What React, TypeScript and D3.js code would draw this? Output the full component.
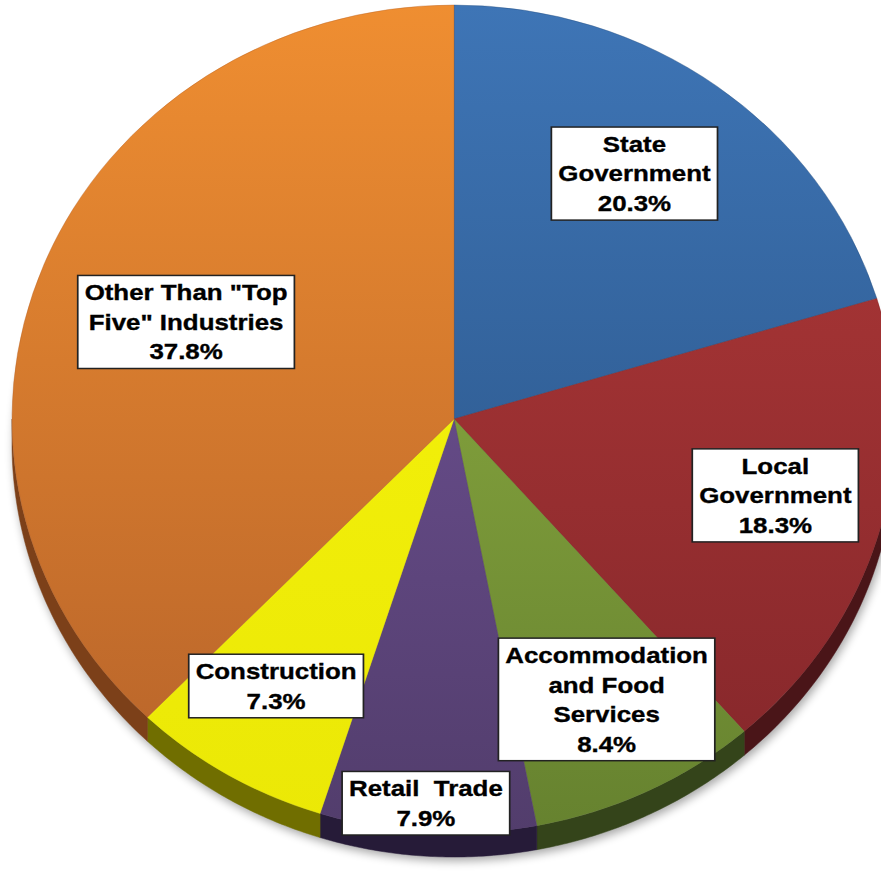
import React, { useEffect, useRef } from 'react';
import * as d3 from 'd3';

// slices, clockwise from 12 o'clock
const categories = [
  'State Government',
  'Local Government',
  'Accommodation and Food Services',
  'Retail Trade',
  'Construction',
  'Other Than "Top Five" Industries',
];
const shares = [20.3, 18.3, 8.4, 7.9, 7.3, 37.8];
const labelLines = [
  ['State', 'Government'],
  ['Local', 'Government'],
  ['Accommodation', 'and Food', 'Services'],
  ['Retail  Trade'],
  ['Construction'],
  ['Other Than "Top', 'Five" Industries'],
];

// colours: top of pie, bottom of pie, side wall
const lightColors = ['#3e75b6', '#b33a39', '#96b646', '#7657a0', '#f8f50c', '#ef8e31'];
const darkColors = ['#264d7c', '#83262a', '#66822f', '#523d6c', '#ebe806', '#b5622a'];
const sideColors = ['#1c3a5e', '#4a1518', '#34441a', '#261b38', '#706e00', '#7c4019'];

// where each label sits: fraction of the radius, and a small turn (degrees) off the slice middle
const labelRadius = [0.72, 0.75, 0.76, 0.93, 0.76, 0.65];
const labelTurn = [-2, -1.8, -1.1, 0.5, 1.2, -0.8];

const W = 881;
const H = 875;

const App = () => {
  const svgRef = useRef<SVGSVGElement | null>(null);

  useEffect(() => {
    const cx = 454;
    const cy = 419;
    const rx = 442;
    const ry = 414;
    const depth = 24;

    const svg = d3.select(svgRef.current);
    svg.selectAll('*').remove();

    const defs = svg.append('defs');

    const blur = defs.append('filter').attr('id', 'shadow')
      .attr('x', '-20%').attr('y', '-20%').attr('width', '140%').attr('height', '140%');
    blur.append('feGaussianBlur').attr('stdDeviation', 5);

    categories.forEach((c, i) => {
      const g = defs.append('linearGradient')
        .attr('id', `grad${i}`)
        .attr('gradientUnits', 'userSpaceOnUse')
        .attr('x1', 0).attr('x2', 0)
        .attr('y1', -rx).attr('y2', rx);
      g.append('stop').attr('offset', 0).attr('stop-color', lightColors[i]);
      g.append('stop').attr('offset', 1).attr('stop-color', darkColors[i]);
    });

    const arcs = d3.pie<number>().sort(null).value(d => d)(shares);
    const pt = (a: number, dy = 0): [number, number] => [cx + rx * Math.sin(a), cy - ry * Math.cos(a) + dy];

    // soft shadow under the disc
    svg.append('ellipse')
      .attr('cx', cx + 2)
      .attr('cy', cy + depth + 4)
      .attr('rx', rx)
      .attr('ry', ry)
      .attr('fill', '#000')
      .attr('opacity', 0.35)
      .attr('filter', 'url(#shadow)');

    // side wall (only front half is visible)
    const line = d3.line();
    arcs.forEach((d, i) => {
      const a0 = Math.max(d.startAngle, Math.PI / 2);
      const a1 = Math.min(d.endAngle, Math.PI * 1.5);
      if (a0 >= a1) return;
      const steps = d3.range(0, 61).map(k => a0 + ((a1 - a0) * k) / 60);
      const pts = steps.map(a => pt(a)).concat(steps.slice().reverse().map(a => pt(a, depth)));
      svg.append('path')
        .attr('d', line(pts) + 'Z')
        .attr('fill', sideColors[i])
        .attr('stroke', sideColors[i])
        .attr('stroke-width', 0.5);
    });

    // top face
    const arc = d3.arc<d3.PieArcDatum<number>>().innerRadius(0).outerRadius(rx);
    const top = svg.append('g').attr('transform', `translate(${cx},${cy}) scale(1,${ry / rx})`);
    top.selectAll('path')
      .data(arcs)
      .enter()
      .append('path')
      .attr('d', arc)
      .attr('fill', (d, i) => `url(#grad${i})`)
      .attr('stroke', (d, i) => darkColors[i])
      .attr('stroke-width', 0.4);

    // labels
    const lineH = 29.5;
    arcs.forEach((d, i) => {
      const mid = (d.startAngle + d.endAngle) / 2 + (labelTurn[i] * Math.PI) / 180;
      const f = labelRadius[i];
      const x = cx + f * rx * Math.sin(mid);
      const y = cy - f * ry * Math.cos(mid);
      const lines = labelLines[i].concat([`${shares[i].toFixed(1)}%`]);
      const g = svg.append('g').attr('transform', `translate(${x},${y}) scale(1.15,1)`);
      const box = g.append('rect');
      const text = g.append('text')
        .attr('text-anchor', 'middle')
        .style('font-family', '"Liberation Sans", Arial, sans-serif')
        .style('font-weight', 'bold')
        .style('font-size', '22.5px')
        .attr('fill', '#000')
        .attr('stroke', '#000')
        .attr('stroke-width', 0.35);
      lines.forEach((t, k) => {
        text.append('tspan')
          .attr('x', 0)
          .attr('y', -((lines.length - 1) * lineH) / 2 + k * lineH + 8)
          .style('white-space', 'pre')
          .text(t);
      });
      const bb = (text.node() as SVGTextElement).getBBox();
      box.attr('x', bb.x - 6)
        .attr('y', bb.y - 4.5)
        .attr('width', bb.width + 12)
        .attr('height', bb.height + 9)
        .attr('fill', '#fff')
        .attr('stroke', '#222')
        .attr('stroke-width', 1.5);
    });
  }, []);

  return (
    <svg
      ref={svgRef}
      width={W}
      height={H}
      style={{ position: 'absolute', left: 0, top: 0, background: '#fff' }}
    />
  );
};

export default App;
